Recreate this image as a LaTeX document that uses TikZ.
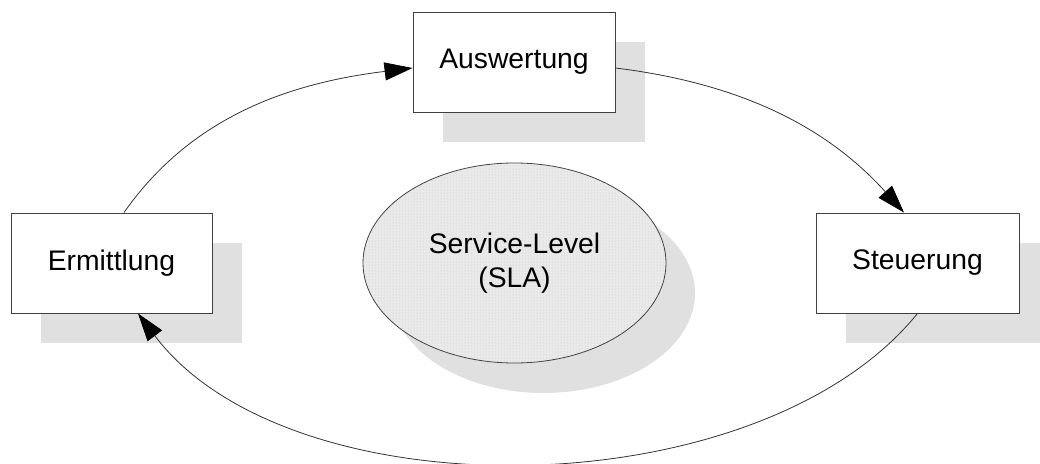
\documentclass[tikz,border=0pt]{standalone}
\usepackage{fontspec}
\setmainfont{Liberation Sans}
\usetikzlibrary{arrows.meta,calc,patterns,shapes.geometric,backgrounds}
\definecolor{shadowgray}{HTML}{E0E0E0}
\definecolor{edgegray}{HTML}{404040}
\definecolor{slafill}{HTML}{EAEAEA}
\begin{document}
\begin{tikzpicture}[x=1pt,y=1pt,
  label font/.style={font=\fontsize{28.3}{34}\selectfont},
  stepbox/.style={draw=edgegray, line width=0.9pt, fill=white,
    minimum width=202pt, minimum height=100pt, inner sep=0pt, label font},
  shade/.style={fill=shadowgray, draw=none},
  flow/.style={draw=black!80, line width=0.8pt,
    -{Triangle[length=28pt,width=18pt,color=black]}}]
\useasboundingbox (0,0) rectangle (1040,463);
\clip (0,0) rectangle (1040,463);

% process steps
\node[stepbox] (aus) at (514,401) {Auswertung};
\node[stepbox, minimum width=201pt] (erm) at (111.5,200) {Ermittlung};
\node[stepbox, minimum width=203pt] (ste) at (917.5,200) {Steuerung};

% central agreement
\node[ellipse, draw=edgegray, line width=0.8pt, fill=slafill,
  postaction={pattern=dots, pattern color=black!22},
  minimum width=303pt, minimum height=200pt, inner sep=0pt,
  align=center, label font] (sla) at (514.5,200) {Service-Level\\(SLA)};

% drop shadows
\begin{scope}[on background layer]
  \foreach \n in {aus,erm,ste}
    \fill[shade] ($(\n.south west)+(30,-30)$) rectangle ($(\n.north east)+(30,-30)$);
  \fill[shade] ($(sla.center)+(29,-30)$) ellipse [x radius=151.5, y radius=100];
\end{scope}

% control cycle
\draw[flow] ([xshift=12.5pt]erm.north) to[out=55, in=187, looseness=0.95] ([yshift=-6pt]aus.west);
\draw[flow] ([yshift=-6pt]aus.east) to[out=-7, in=132, looseness=0.95] ([xshift=-13.5pt]ste.north);
\draw[flow] (ste.south) to[out=-129, in=-53, looseness=0.83] ([xshift=26.5pt]erm.south);
\end{tikzpicture}
\end{document}
